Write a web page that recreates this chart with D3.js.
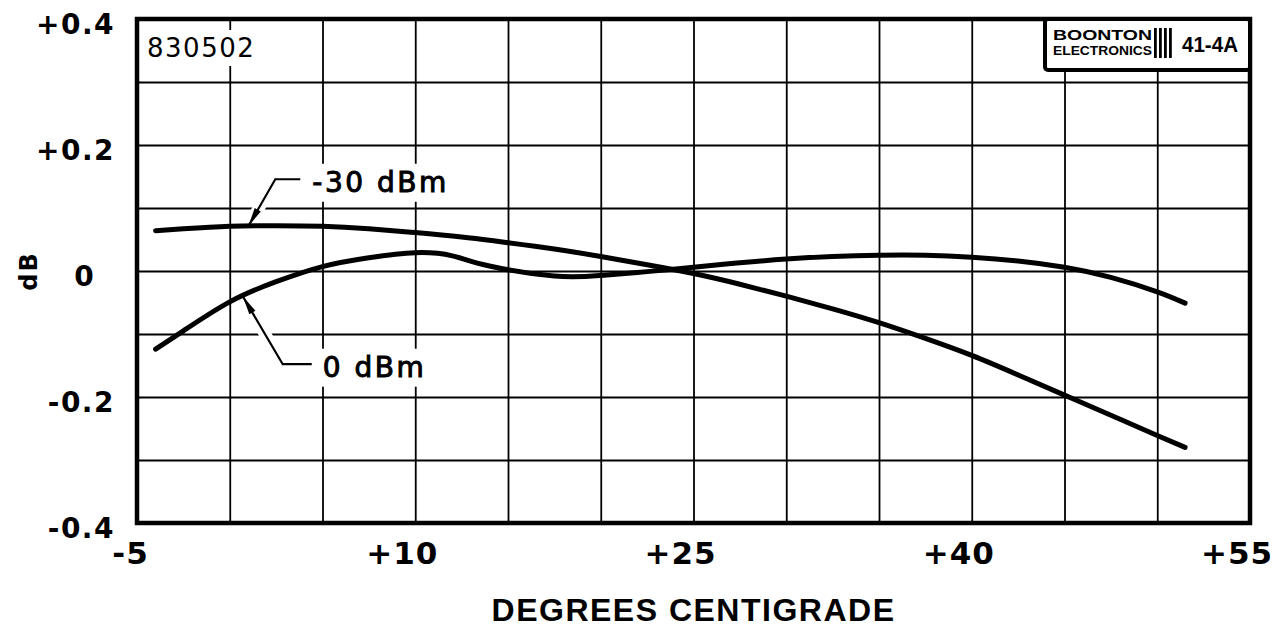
<!DOCTYPE html>
<html>
<head>
<meta charset="utf-8">
<script src="https://cdn.jsdelivr.net/npm/d3@7"></script>
<style>
  body { margin: 0; background: #fff; }
  svg { display: block; }
</style>
</head>
<body>
<svg id="chart" width="1285" height="631"></svg>
<script>
"use strict"

// readings taken off the chart (deg C, dB)
const temps30 = [-4, -2.5, 0, 2.5, 5, 7.5, 10, 12.5, 15, 17.5, 20, 22.5, 25, 27.5, 30, 32.5, 35, 37.5, 40, 42.5, 45, 47.5, 50, 51.5]
const db30 = [0.064, 0.067, 0.071, 0.072, 0.071, 0.067, 0.061, 0.054, 0.045, 0.035, 0.023, 0.010, -0.004, -0.021, -0.040, -0.060, -0.082, -0.107, -0.134, -0.165, -0.197, -0.229, -0.261, -0.280]

const temps0 = [-4, -2.5, 0, 2.5, 5, 7.5, 10, 12, 14, 17.5, 20, 22.5, 25, 27.5, 30, 32.5, 35, 37.5, 40, 42.5, 45, 47.5, 50, 51.5]
const db0 = [-0.124, -0.095, -0.049, -0.017, 0.007, 0.021, 0.029, 0.024, 0.008, -0.008, -0.007, -0.001, 0.006, 0.013, 0.019, 0.023, 0.025, 0.025, 0.022, 0.016, 0.006, -0.010, -0.033, -0.051]

const tempTicks = [-5, 10, 25, 40, 55]
const tempGrid = [0, 5, 10, 15, 20, 25, 30, 35, 40, 45, 50]
const dbTicks = [-0.4, -0.2, 0, 0.2, 0.4]
const dbGrid = [-0.3, -0.2, -0.1, 0, 0.1, 0.2, 0.3]

const seriesLabels = ["-30 dBm", "0 dBm"]
const seriesTip = [[1, 0.071], [0.7, -0.040]]   // where each leader arrow touches its curve

const chartId = "830502"
const xTitle = "DEGREES CENTIGRADE"
const yTitle = "dB"

const width = 1285
const height = 631
const margin = {top: 19, right: 35, bottom: 108, left: 137}
const tickFont = "'DejaVu Sans', sans-serif"
const letterFont = "'Liberation Sans', Arial, sans-serif"

const svg = d3.select("#chart")

const x = d3.scaleLinear().domain([-5, 55]).range([margin.left, width - margin.right])
const y = d3.scaleLinear().domain([-0.4, 0.4]).range([height - margin.bottom, margin.top])

const plotH = y(-0.4) - y(0.4)
const plotW = x(55) - x(-5)

// grid
const gx = svg.append("g")
  .attr("transform", `translate(0,${y(-0.4)})`)
  .call(d3.axisBottom(x).tickValues(tempGrid).tickSize(-plotH).tickFormat(""))
gx.select(".domain").remove()

const gy = svg.append("g")
  .attr("transform", `translate(${x(-5)},0)`)
  .call(d3.axisLeft(y).tickValues(dbGrid).tickSize(-plotW).tickFormat(""))
gy.select(".domain").remove()

svg.selectAll("g line").attr("stroke", "#000").attr("stroke-width", 1.8)

// frame
svg.append("rect")
  .attr("x", x(-5)).attr("y", y(0.4))
  .attr("width", plotW).attr("height", plotH)
  .attr("fill", "none").attr("stroke", "#000").attr("stroke-width", 4.5)

// y tick labels
const fmtDb = d => d === 0 ? "0" : (d > 0 ? "+" : "-") + Math.abs(d).toFixed(1)
const ya = svg.append("g")
  .attr("transform", `translate(${x(-5)},0)`)
  .call(d3.axisLeft(y).tickValues(dbTicks).tickSize(0).tickPadding(22).tickFormat(fmtDb))
ya.select(".domain").remove()
ya.selectAll("text")
  .attr("font-family", tickFont).attr("font-size", 28).attr("font-weight", "bold")
  .attr("letter-spacing", 1.5).attr("fill", "#000")
  .attr("dy", "0.5em")
ya.selectAll("text").filter(d => d === 0)
  .attr("text-anchor", "middle").attr("x", -53).attr("letter-spacing", 0)

// x tick labels, number part centred on the tick
const fmtT = d => (d > 0 ? "+" : "-") + Math.abs(d)
const xa = svg.append("g")
  .attr("transform", `translate(0,${y(-0.4)})`)
  .call(d3.axisBottom(x).tickValues(tempTicks).tickSize(0).tickFormat(fmtT))
xa.select(".domain").remove()
xa.selectAll("text")
  .attr("font-family", tickFont).attr("font-size", 31).attr("font-weight", "bold")
  .attr("letter-spacing", 1).attr("fill", "#000")
  .attr("y", 41).attr("dy", 0)
  .each(function() {
    const s = this.getSubStringLength(0, 1)
    const L = this.getComputedTextLength()
    d3.select(this).attr("text-anchor", "start").attr("x", -(s + (L - s) / 2))
  })

// axis titles
svg.append("text")
  .attr("x", (x(-5) + x(55)) / 2).attr("y", 621)
  .attr("text-anchor", "middle")
  .attr("font-family", letterFont).attr("font-size", 32).attr("font-weight", "bold")
  .attr("letter-spacing", 1.5)
  .text(xTitle)

svg.append("text")
  .attr("transform", `translate(37,${y(0)}) rotate(-90)`)
  .attr("text-anchor", "middle")
  .attr("font-family", tickFont).attr("font-size", 24).attr("font-weight", "bold")
  .attr("letter-spacing", 2)
  .text(yTitle)

// helper: text with a white patch behind it (hides the grid)
function patchedText(g, tx, ty, str, attrs, pad) {
  const bg = g.append("rect").attr("fill", "#fff")
  const t = g.append("text").attr("x", tx).attr("y", ty).text(str)
  Object.entries(attrs).forEach(([k, v]) => t.attr(k, v))
  const b = t.node().getBBox()
  bg.attr("x", b.x - pad).attr("y", b.y - pad / 2)
    .attr("width", b.width + pad * 2).attr("height", b.height + pad)
  return t
}

const labelsG = svg.append("g")

patchedText(labelsG, 147, 57, chartId, {
  "font-family": tickFont, "font-size": 26, "letter-spacing": 1.5
}, 6)

// leader geometry relative to arrow tip: knee, end of shelf, text start
const leaders = [
  {knee: [27, -47], end: [52, -47], text: [64, -34]},
  {knee: [40, 68], end: [69, 68], text: [80, 81]}
]

const halos = svg.append("g")
const curves = svg.append("g")
const arrows = svg.append("g")

seriesLabels.forEach((lab, i) => {
  const tx = x(seriesTip[i][0])
  const ty = y(seriesTip[i][1])
  const L = leaders[i]
  const pts = [[tx + L.end[0], ty + L.end[1]], [tx + L.knee[0], ty + L.knee[1]], [tx, ty]]

  patchedText(labelsG, tx + L.text[0], ty + L.text[1], lab, {
    "font-family": tickFont, "font-size": 28, "letter-spacing": 2.5,
    "stroke": "#000", "stroke-width": 1
  }, 5)

  halos.append("path").attr("d", d3.line()(pts.slice(1)))
    .attr("fill", "none").attr("stroke", "#fff").attr("stroke-width", 12)

  arrows.append("path").attr("d", d3.line()(pts))
    .attr("fill", "none").attr("stroke", "#000").attr("stroke-width", 2.2)

  // arrowhead
  const dx = tx - pts[1][0], dy = ty - pts[1][1]
  const len = Math.hypot(dx, dy)
  const ux = dx / len, uy = dy / len
  const bx = tx - ux * 19, by = ty - uy * 19
  arrows.append("path")
    .attr("d", `M${tx},${ty}L${bx - uy * 3.5},${by + ux * 3.5}L${bx + uy * 3.5},${by - ux * 3.5}Z`)
    .attr("fill", "#000")
})

// curves
const line = d3.line()
  .x(d => x(d[0]))
  .y(d => y(d[1]))
  .curve(d3.curveNatural)

;[d3.zip(temps30, db30), d3.zip(temps0, db0)].forEach(s => {
  curves.append("path").datum(s).attr("d", line)
    .attr("fill", "none").attr("stroke", "#000")
    .attr("stroke-width", 5).attr("stroke-linecap", "round")
})

// maker's box, top right
const box = svg.append("g")
box.append("rect")
  .attr("x", 1045).attr("y", y(0.4)).attr("width", x(55) - 1045).attr("height", 51)
  .attr("rx", 3).attr("fill", "#fff").attr("stroke", "#000").attr("stroke-width", 4)
box.append("text").attr("x", 1053).attr("y", 40)
  .attr("font-family", letterFont).attr("font-size", 14).attr("font-weight", "bold")
  .attr("textLength", 99).attr("lengthAdjust", "spacingAndGlyphs")
  .text("BOONTON")
box.append("text").attr("x", 1053).attr("y", 55)
  .attr("font-family", letterFont).attr("font-size", 12).attr("font-weight", "bold")
  .attr("textLength", 99).attr("lengthAdjust", "spacingAndGlyphs")
  .text("ELECTRONICS")
;[1154, 1159, 1164, 1169].forEach(bx => {
  box.append("rect").attr("x", bx).attr("y", 28).attr("width", 2.8).attr("height", 30).attr("fill", "#000")
})
box.append("text").attr("x", 1182).attr("y", 52)
  .attr("font-family", letterFont).attr("font-size", 22).attr("font-weight", "bold")
  .attr("textLength", 56).attr("lengthAdjust", "spacingAndGlyphs")
  .text("41-4A")
</script>
</body>
</html>
